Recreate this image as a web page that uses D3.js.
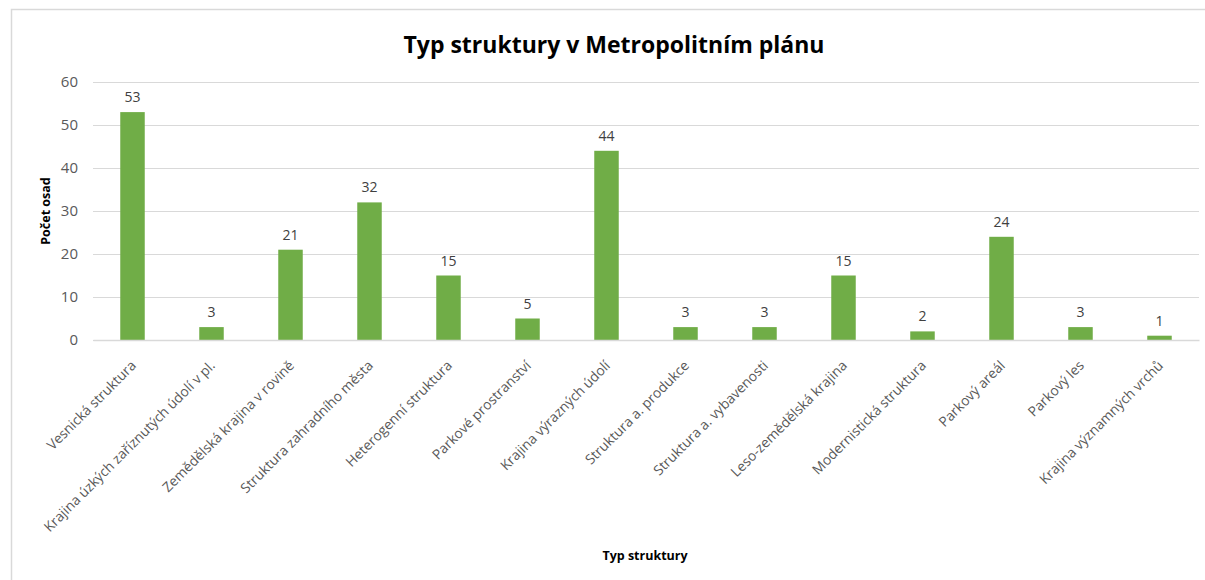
<!DOCTYPE html>
<html>
<head>
<meta charset="utf-8">
<script src="https://cdn.jsdelivr.net/npm/d3@7"></script>
<style>
  body { margin: 0; background: #fff; }
  svg { display: block; }
  text { font-family: "Open Sans", "Noto Sans", sans-serif; }
</style>
</head>
<body>
<svg id="chart" width="1205" height="580"></svg>
<script>
// kategorie a hodnoty
const kategorie = ["Vesnická struktura", "Krajina úzkých zaříznutých údolí v pl.", "Zemědělská krajina v rovině",
  "Struktura zahradního města", "Heterogenní struktura", "Parkové prostranství", "Krajina výrazných údolí",
  "Struktura a. produkce", "Struktura a. vybavenosti", "Leso-zemědělská krajina", "Modernistická struktura",
  "Parkový areál", "Parkový les", "Krajina významných vrchů"];
const pocty = [53, 3, 21, 32, 15, 5, 44, 3, 3, 15, 2, 24, 3, 1];
const yTicks = [0, 10, 20, 30, 40, 50, 60];

const svg = d3.select("#chart");
var plot = {left: 93, right: 1199, top: 82, bottom: 340};

// ramecek grafu
svg.append("rect")
  .attr("x", 11.5).attr("y", 9.5)
  .attr("width", 1210).attr("height", 600)
  .attr("fill", "none").attr("stroke", "#d9d9d9").attr("stroke-width", 1.5);

const x = d3.scaleBand().domain(kategorie).range([plot.left, plot.right]).paddingInner(0.69).paddingOuter(0.345);
const y = d3.scaleLinear().domain([0, 60]).range([plot.bottom, plot.top]);

// mrizka + osa y
const yAxis = svg.append("g")
  .attr("transform", `translate(${plot.left},0)`)
  .call(d3.axisLeft(y).tickValues(yTicks).tickSize(-(plot.right - plot.left)).tickPadding(15));
yAxis.select(".domain").remove();
yAxis.selectAll("line").attr("stroke", "#d9d9d9").attr("stroke-width", 1.2);
yAxis.selectAll("text").attr("fill", "#595959").style("font-size", "15px");

// sloupce
svg.append("g").selectAll("rect")
  .data(pocty)
  .join("rect")
  .attr("x", (d, i) => x(kategorie[i]))
  .attr("y", d => y(d))
  .attr("width", x.bandwidth())
  .attr("height", d => y(0) - y(d))
  .attr("fill", "#70ad47");

// popisky hodnot
svg.append("g").selectAll("text")
  .data(pocty)
  .join("text")
  .attr("x", (d, i) => x(kategorie[i]) + x.bandwidth() / 2)
  .attr("y", d => y(d) - 10)
  .attr("text-anchor", "middle")
  .attr("fill", "#404040")
  .style("font-size", "14px")
  .text(d => d);

// osa x
const xAxis = svg.append("g")
  .attr("transform", `translate(0,${plot.bottom})`)
  .call(d3.axisBottom(x).tickSize(0).tickPadding(0));
xAxis.select(".domain").attr("stroke", "#d9d9d9").attr("stroke-width", 1.5);
xAxis.selectAll("text")
  .attr("fill", "#595959")
  .style("font-size", "13.8px")
  .attr("text-anchor", "end")
  .attr("dy", "0.35em")
  .attr("transform", "translate(1,23) rotate(-45)");

// titulky
svg.append("text")
  .attr("x", 614).attr("y", 53)
  .attr("text-anchor", "middle")
  .style("font-size", "23px").style("font-weight", "700")
  .attr("fill", "#000")
  .text("Typ struktury v Metropolitním plánu");

svg.append("text")
  .attr("transform", `translate(50,${(plot.top + plot.bottom) / 2}) rotate(-90)`)
  .attr("text-anchor", "middle")
  .style("font-size", "12.5px").style("font-weight", "700")
  .attr("fill", "#000")
  .text("Počet osad");

svg.append("text")
  .attr("x", 645).attr("y", 560)
  .attr("text-anchor", "middle")
  .style("font-size", "12.5px").style("font-weight", "700")
  .attr("fill", "#000")
  .text("Typ struktury");
</script>
</body>
</html>
